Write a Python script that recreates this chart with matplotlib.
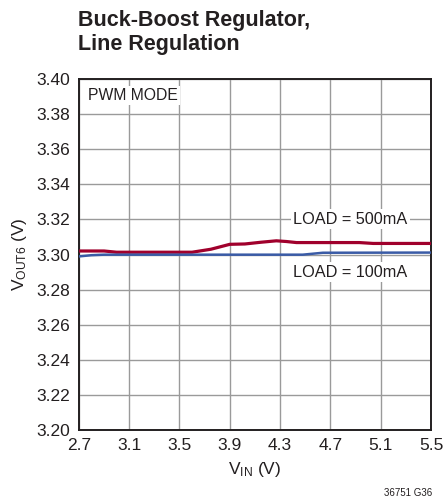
import matplotlib
matplotlib.use("Agg")
import matplotlib.pyplot as plt

plt.rcParams['font.family'] = ['Liberation Sans', 'DejaVu Sans']
plt.rcParams['mathtext.default'] = 'regular'

# Data
vin_500 = [2.7, 2.9, 3.0, 3.6, 3.75, 3.9, 4.02, 4.15, 4.27, 4.35, 4.43, 4.93, 5.04, 5.5]
vout_500 = [3.3020, 3.3020, 3.3013, 3.3013, 3.3030, 3.3058, 3.3060, 3.3070, 3.3078, 3.3074, 3.3068, 3.3068, 3.3063, 3.3063]
vin_100 = [2.7, 2.8, 2.9, 4.48, 4.64, 5.5]
vout_100 = [3.2989, 3.2996, 3.2999, 3.2999, 3.3010, 3.3011]
xticks = [2.7, 3.1, 3.5, 3.9, 4.3, 4.7, 5.1, 5.5]
yticks = [3.20, 3.22, 3.24, 3.26, 3.28, 3.30, 3.32, 3.34, 3.36, 3.38, 3.40]

TXT = '#231f20'
fig = plt.figure(figsize=(4.43, 5.0), dpi=100)
ax = fig.add_axes([0.178, 0.14, 0.795, 0.702])

ax.plot(vin_500, vout_500, color='#A0002C', lw=2.3, solid_capstyle='butt', zorder=3)
ax.plot(vin_100, vout_100, color='#3A5BA6', lw=1.8, solid_capstyle='butt', zorder=3)

ax.set_xlim(2.7, 5.5)
ax.set_ylim(3.20, 3.40)
ax.set_xticks(xticks)
ax.set_yticks(yticks)
ax.set_xticklabels([f"{v:.1f}" for v in xticks])
ax.set_yticklabels([f"{v:.2f}" for v in yticks])
ax.tick_params(length=0, labelsize=12.5, colors=TXT)
ax.tick_params(axis='y', pad=6.5)
ax.tick_params(axis='x', pad=6)
ax.grid(True, color='#9a9a9a', lw=1.0)
ax.set_axisbelow(True)
for s in ax.spines.values():
    s.set_color(TXT)
    s.set_linewidth(1.4)

ax.set_xlabel(r"V$_{IN}$ (V)", fontsize=12.5, color=TXT, labelpad=5)
ax.set_ylabel(r"V$_{OUT6}$ (V)", fontsize=12.5, color=TXT, labelpad=5)

bbox = dict(facecolor='white', edgecolor='none', pad=1.5)
ax.text(2.77, 3.3905, "PWM MODE", ha='left', va='center',
        fontsize=11.3, color=TXT, bbox=bbox)
ax.text(4.86, 3.3202, "LOAD = 500mA", ha='center', va='center', fontsize=11.7,
        color=TXT, bbox=bbox, zorder=4)
ax.text(4.86, 3.2900, "LOAD = 100mA", ha='center', va='center', fontsize=11.7,
        color=TXT, bbox=bbox, zorder=4)

fig.text(0.176, 1 - 26/500, "Buck-Boost Regulator,", ha='left', va='baseline',
         fontsize=15.5, fontweight='bold', color=TXT)
fig.text(0.176, 1 - 50/500, "Line Regulation", ha='left', va='baseline',
         fontsize=15.5, fontweight='bold', color=TXT)
fig.text(0.976, 1 - 496/500, "36751 G36", ha='right', va='baseline', fontsize=7, color=TXT)

fig.savefig("out.png", dpi=100)
